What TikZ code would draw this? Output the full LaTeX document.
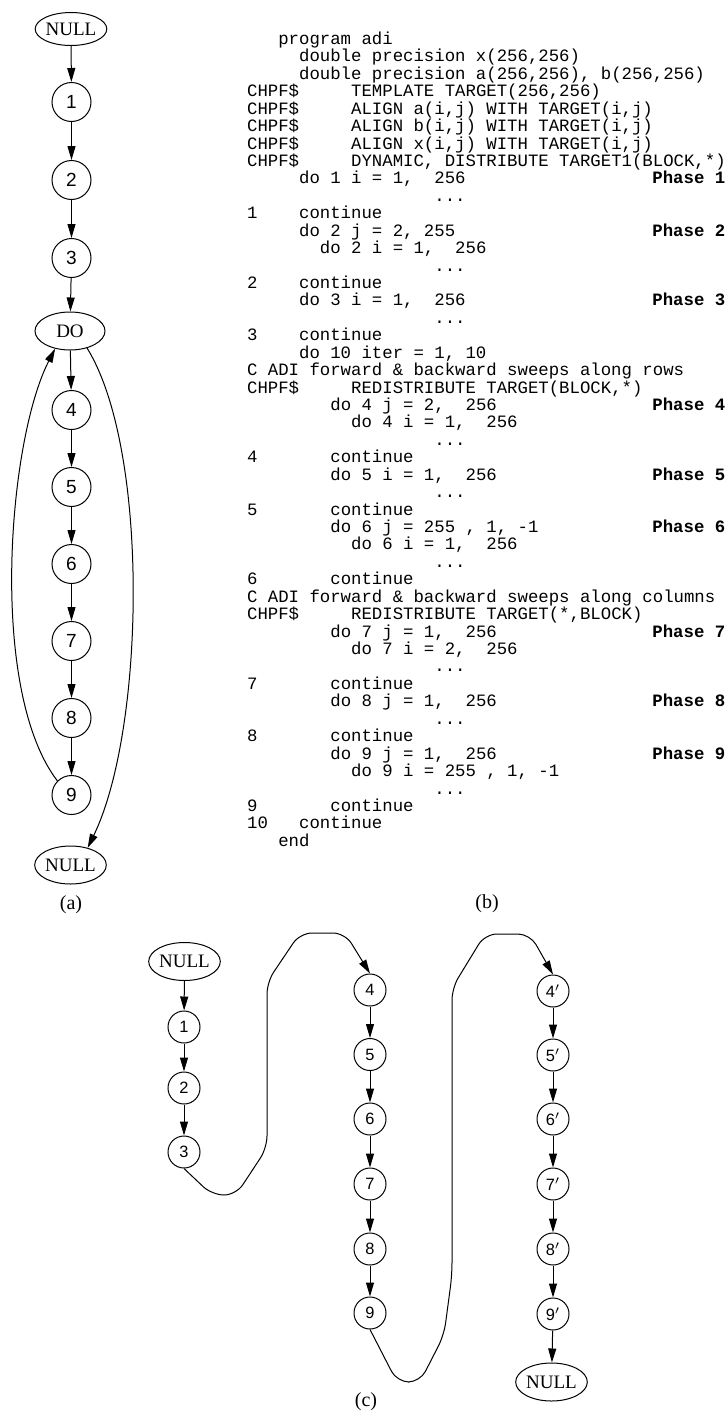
\documentclass[tikz,border=0pt]{standalone}
\usepackage{fontspec}
\setmainfont{Liberation Serif}
\setsansfont{Liberation Sans}
\setmonofont{Liberation Mono}
\usepackage{tikz}
\usetikzlibrary{shapes.geometric,arrows.meta}

% indent by n character columns of the code font
\newcommand{\cind}[1]{\hspace*{#1\fontcharwd\font`\0}}
\newcommand{\dts}{.\kern0pt.\kern0pt.}

\begin{document}
\begin{tikzpicture}[
            x=0.5pt, y=-0.5pt,
            ring/.style={circle, draw, line width=0.5pt, minimum size=19.5pt, inner sep=0pt, font=\sffamily\fontsize{9.5}{10}\selectfont},
            small ring/.style={ring, minimum size=16pt, font=\sffamily\fontsize{8.2}{9}\selectfont},
            oval/.style={ellipse, draw, line width=0.5pt, minimum width=35pt, minimum height=19pt, inner sep=0pt, font=\fontsize{9.5}{10}\selectfont},
            flow/.style={-{Triangle[length=7pt,width=4pt]}, line width=0.5pt},
            code/.style={anchor=base west, inner sep=0pt, font=\ttfamily\frenchspacing\fontsize{8.67}{8.7}\selectfont},
            phase/.style={code, font=\ttfamily\bfseries\fontsize{8.67}{8.7}\selectfont},
            caption/.style={font=\fontsize{10}{12}\selectfont}
    ]
        \useasboundingbox (0,0) rectangle (727,1414);

        % (a) control flow graph
        \node[oval, minimum height=16.5pt] (anull) at (71,29) {NULL};
        \node[ring] (a1) at (71.5,102) {1};
        \node[ring] (a2) at (71.5,180) {2};
        \node[ring] (a3) at (71.5,258) {3};
        \node[oval] (ado) at (70,331) {DO};
        \node[ring] (a4) at (71.5,410) {4};
        \node[ring] (a5) at (71.5,487) {5};
        \node[ring] (a6) at (71.5,564) {6};
        \node[ring] (a7) at (71.5,641) {7};
        \node[ring] (a8) at (71.5,718) {8};
        \node[ring] (a9) at (71.5,795) {9};
        \node[oval] (aend) at (70.5,865) {NULL};
        \node[caption] (capa) at (71,905) {(a)};

        \draw[flow] (anull) -- (a1);
        \draw[flow] (a1) -- (a2);
        \draw[flow] (a2) -- (a3);
        \draw[flow] (a3) -- (ado);
        \draw[flow] (ado) -- (a4);
        \draw[flow] (a4) -- (a5);
        \draw[flow] (a5) -- (a6);
        \draw[flow] (a6) -- (a7);
        \draw[flow] (a7) -- (a8);
        \draw[flow] (a8) -- (a9);
        \draw[flow] (a9.135) .. controls (-12,690) and (8,440) .. (ado.230);
        \draw[flow] (ado.-45) .. controls (150,450) and (145,730) .. (aend.45);

        % (b) program text
        \foreach \txt [count=\n] in {
            {\cind{3}program adi},
            {\cind{5}double precision x(256,256)},
            {\cind{5}double precision a(256,256), b(256,256)},
            {CHPF\$\cind{5}TEMPLATE TARGET(256,256)},
            {CHPF\$\cind{5}ALIGN a(i,j) WITH TARGET(i,j)},
            {CHPF\$\cind{5}ALIGN b(i,j) WITH TARGET(i,j)},
            {CHPF\$\cind{5}ALIGN x(i,j) WITH TARGET(i,j)},
            {CHPF\$\cind{5}DYNAMIC, DISTRIBUTE TARGET1(BLOCK,*)},
            {\cind{5}do 1 i = 1,\cind{2}256},
            {\cind{18}\dts},
            {1\cind{4}continue},
            {\cind{5}do 2 j = 2, 255},
            {\cind{7}do 2 i = 1,\cind{2}256},
            {\cind{18}\dts},
            {2\cind{4}continue},
            {\cind{5}do 3 i = 1,\cind{2}256},
            {\cind{18}\dts},
            {3\cind{4}continue},
            {\cind{5}do 10 iter = 1, 10},
            {C ADI forward \& backward sweeps along rows},
            {CHPF\$\cind{5}REDISTRIBUTE TARGET(BLOCK,*)},
            {\cind{8}do 4 j = 2,\cind{2}256},
            {\cind{10}do 4 i = 1,\cind{2}256},
            {\cind{18}\dts},
            {4\cind{7}continue},
            {\cind{8}do 5 i = 1,\cind{2}256},
            {\cind{18}\dts},
            {5\cind{7}continue},
            {\cind{8}do 6 j = 255 , 1, -1},
            {\cind{10}do 6 i = 1,\cind{2}256},
            {\cind{18}\dts},
            {6\cind{7}continue},
            {C ADI forward \& backward sweeps along columns},
            {CHPF\$\cind{5}REDISTRIBUTE TARGET(*,BLOCK)},
            {\cind{8}do 7 j = 1,\cind{2}256},
            {\cind{10}do 7 i = 2,\cind{2}256},
            {\cind{18}\dts},
            {7\cind{7}continue},
            {\cind{8}do 8 j = 1,\cind{2}256},
            {\cind{18}\dts},
            {8\cind{7}continue},
            {\cind{8}do 9 j = 1,\cind{2}256},
            {\cind{10}do 9 i = 255 , 1, -1},
            {\cind{18}\dts},
            {9\cind{7}continue},
            {10\cind{3}continue},
            {\cind{3}end}}
            \node[code] (ln\n) at (246.7,{44.5+(\n-1)*17.43}) {\txt};

        \foreach \ph/\ln in {1/9, 2/12, 3/16, 4/22, 5/26, 6/29, 7/35, 8/39, 9/42}
            \node[phase] (ph\ph) at (652,{44.5+(\ln-1)*17.43}) {Phase \ph};

        \node[caption] (capb) at (487,904) {(b)};

        % (c) unrolled graph
        \node[oval] (cnull) at (184.5,961.5) {NULL};
        \node[small ring] (c1) at (184,1027) {1};
        \node[small ring] (c2) at (184,1088) {2};
        \node[small ring] (c3) at (184,1152) {3};

        \node[small ring] (c4) at (370,990) {4};
        \node[small ring] (c5) at (370,1054.5) {5};
        \node[small ring] (c6) at (370,1119) {6};
        \node[small ring] (c7) at (370,1184) {7};
        \node[small ring] (c8) at (370,1249) {8};
        \node[small ring] (c9) at (370,1313) {9};

        \node[small ring] (c4p) at (553,991) {4$'$};
        \node[small ring] (c5p) at (553,1055) {5$'$};
        \node[small ring] (c6p) at (553,1119) {6$'$};
        \node[small ring] (c7p) at (553,1184) {7$'$};
        \node[small ring] (c8p) at (553,1249) {8$'$};
        \node[small ring] (c9p) at (553,1314) {9$'$};
        \node[oval] (cend) at (551.5,1382) {NULL};
        \node[caption] (capc) at (366,1402) {(c)};

        \draw[flow] (cnull) -- (c1);
        \draw[flow] (c1) -- (c2);
        \draw[flow] (c2) -- (c3);
        \draw[flow, rounded corners=6pt] (c3.south) -- (212,1195) -- (236,1195) -- (267,1148) -- (267,982) -- (300,933) -- (345,933) -- (c4.north);
        \draw[flow] (c4) -- (c5);
        \draw[flow] (c5) -- (c6);
        \draw[flow] (c6) -- (c7);
        \draw[flow] (c7) -- (c8);
        \draw[flow] (c8) -- (c9);
        \draw[flow, rounded corners=6pt] (c9.south) -- (397,1382) -- (420,1382) -- (444,1335) -- (452,1275) -- (452,988) -- (485,934) -- (530,934) -- (c4p.north);
        \draw[flow] (c4p) -- (c5p);
        \draw[flow] (c5p) -- (c6p);
        \draw[flow] (c6p) -- (c7p);
        \draw[flow] (c7p) -- (c8p);
        \draw[flow] (c8p) -- (c9p);
        \draw[flow] (c9p) -- (cend);

    \end{tikzpicture}
\end{document}
